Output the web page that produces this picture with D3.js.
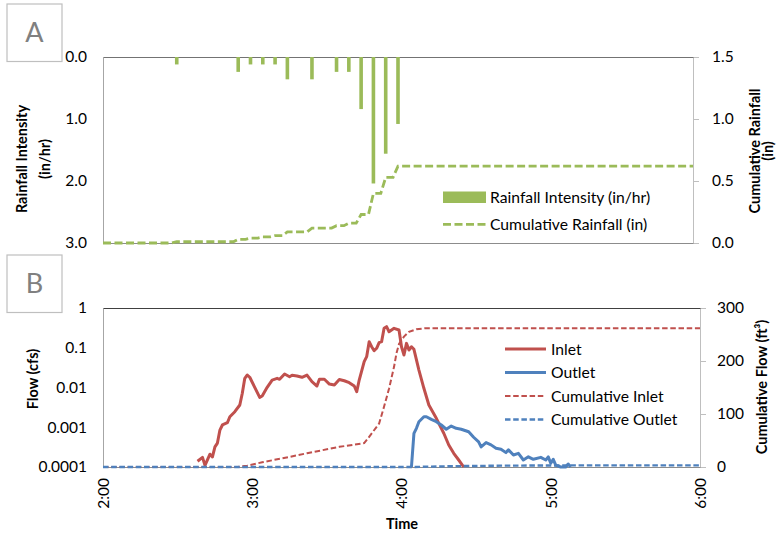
<!DOCTYPE html>
<meta charset="utf-8">
<script src="https://d3js.org/d3.v7.min.js"></script>
<style>
  body { margin: 0; background: #fff; }
  text { font-family: Lato, "Noto Sans", sans-serif; }
</style>
<div id="chart"></div>
<script>
// panel A: rainfall, 5-minute bars
var rainTimes = ["2:30","2:55","3:00","3:05","3:10","3:15","3:25","3:35","3:40","3:45","3:50","3:55","4:00"];
var rainIntensity = [0.12,0.24,0.12,0.12,0.12,0.36,0.36,0.24,0.24,0.84,2.04,1.56,1.08];

var cumRainTimes = ["2:00","2:28","2:30","2:53","2:55","2:58","3:00","3:03","3:05","3:08","3:10","3:13","3:15",
  "3:23","3:25","3:33","3:35","3:38","3:40","3:43","3:45","3:48","3:50","3:53","3:55","3:58","4:00","6:00"];
var cumRain = [0,0,0.01,0.01,0.03,0.03,0.04,0.04,0.05,0.05,0.06,0.06,0.09,
  0.09,0.12,0.12,0.14,0.14,0.16,0.16,0.23,0.23,0.40,0.40,0.53,0.53,0.62,0.62];

// panel B: flows
var inletTimes = ["2:38","2:40","2:41","2:43","2:44","2:45","2:46","2:47","2:48","2:50","2:51","2:53","2:55","2:56",
  "2:57","2:58","2:59","3:01","3:03","3:04","3:06","3:08","3:10","3:11","3:13","3:15","3:16","3:18","3:20","3:22",
  "3:24","3:26","3:27","3:29","3:31","3:33","3:35","3:37","3:39","3:41","3:42","3:43","3:45","3:46","3:47","3:48",
  "3:49","3:50","3:51","3:52","3:53","3:54","3:55","3:57","3:59","4:00","4:01","4:02","4:03","4:04","4:05","4:07",
  "4:09","4:11","4:14","4:17","4:19","4:21","4:23","4:25"];
var inletFlow = [0.00014,0.000175,0.00011,0.00021,0.00018,0.00032,0.0004,0.00085,0.00114,0.0013,0.00184,0.00246,0.00363,0.00715,
  0.017,0.0206,0.0181,0.0101,0.00566,0.00611,0.0101,0.0154,0.017,0.0161,0.0219,0.0187,0.0203,0.0195,0.0181,0.0206,
  0.014,0.0109,0.0161,0.0161,0.0122,0.0116,0.0159,0.0148,0.0132,0.0109,0.00784,0.0154,0.0446,0.0596,0.142,0.106,
  0.0843,0.0969,0.134,0.142,0.308,0.339,0.253,0.308,0.28,0.106,0.0657,0.129,0.0878,0.106,0.0914,0.0275,
  0.00955,0.00363,0.00168,0.000705,0.000357,0.000221,0.00015,0.0001];

var outletTimes = ["4:04","4:05","4:06","4:07","4:09","4:10","4:12","4:14","4:16","4:18","4:20","4:22","4:24","4:27",
  "4:29","4:31","4:32","4:34","4:36","4:38","4:40","4:42","4:43","4:45","4:47","4:49","4:51","4:53","4:56","4:58",
  "4:59","5:00","5:01","5:02","5:04","5:06","5:07","5:08"];
var outletFlow = [0.0001,0.0007,0.00094,0.00138,0.00184,0.00184,0.00158,0.00138,0.00114,0.00089,0.00107,0.00094,0.00089,0.00077,
  0.00056,0.00043,0.00032,0.00041,0.00036,0.000295,0.00028,0.00023,0.00027,0.0002,0.00022,0.00015,0.00018,0.000156,0.000175,0.00015,
  0.00018,0.000124,0.000156,0.000112,0.0001,0.0001,0.000119,0.0001];

var cumInletTimes = ["2:00","2:54","2:58","3:04","3:15","3:22","3:35","3:45","3:47","3:51","3:53","3:55","3:57","3:58",
  "3:59","4:01","4:03","4:06","4:10","6:00"];
var cumInlet = [0,0,2.5,9,19,26,38,45,57,82,114,148,189,215,232,246,255,260,262,262];

var cumOutletTimes = ["2:00","4:04","4:20","4:40","5:05","6:00"];
var cumOutlet = [0,0,1.5,2.5,3,3];

var hourTicks = ["2:00","3:00","4:00","5:00","6:00"];
var intensityTicks = [0, 1, 2, 3];
var cumRainTicks = [0, 0.5, 1, 1.5];
var flowTicks = [1, 0.1, 0.01, 0.001, 0.0001];
var cumFlowTicks = [0, 100, 200, 300];

var green = "#9bbb59", red = "#c0504d", blue = "#4f81bd";
var parse = d3.timeParse("%H:%M");

var svg = d3.select("#chart").append("svg")
    .attr("width", 781)
    .attr("height", 535);

function zip(times, vals) {
  return times.map(function(t, i) { return { t: parse(t), v: vals[i] }; });
}

// ---------- panel A ----------
var a = { left: 103, right: 693, top: 57, bottom: 243 };

var xA = d3.scaleTime().domain([parse("2:00"), parse("6:00")]).range([a.left, a.right]);
var yInt = d3.scaleLinear().domain([0, 3]).range([a.top, a.bottom]);
var yCumR = d3.scaleLinear().domain([0, 1.5]).range([a.bottom, a.top]);

svg.append("g")
    .attr("transform", "translate(" + a.left + ",0)")
    .call(d3.axisLeft(yInt).tickValues(intensityTicks).tickFormat(d3.format(".1f")).tickSize(0).tickPadding(16))
    .call(function(g) { g.select(".domain").attr("stroke", "#a6a6a6"); });

svg.append("g")
    .attr("transform", "translate(" + a.right + ",0)")
    .call(d3.axisRight(yCumR).tickValues(cumRainTicks).tickFormat(d3.format(".1f")).tickSize(6).tickPadding(13))
    .call(function(g) {
      g.select(".domain").attr("stroke", "#bfbfbf");
      g.selectAll(".tick line").attr("stroke", "#bfbfbf");
    });

svg.append("g")
    .attr("transform", "translate(0," + a.top + ")")
    .call(d3.axisTop(xA).tickValues([]).tickSizeOuter(0))
    .select(".domain").attr("stroke", "#737373");

svg.append("g")
    .attr("transform", "translate(0," + a.bottom + ")")
    .call(d3.axisBottom(xA).tickValues([]).tickSizeOuter(0))
    .select(".domain").attr("stroke", "#8c8c8c");

svg.selectAll(".tick text").attr("font-size", 15.5).attr("fill", "#000");

svg.append("g").selectAll("rect")
  .data(zip(rainTimes, rainIntensity))
  .join("rect")
    .attr("x", function(d) { return xA(d.t) - 1.8; })
    .attr("y", yInt(0))
    .attr("width", 3.6)
    .attr("height", function(d) { return yInt(d.v) - yInt(0); })
    .attr("fill", green);

svg.append("path")
    .datum(zip(cumRainTimes, cumRain))
    .attr("fill", "none")
    .attr("stroke", green)
    .attr("stroke-width", 2.8)
    .attr("stroke-dasharray", "8,3.5")
    .attr("d", d3.line()
      .x(function(d) { return xA(d.t); })
      .y(function(d) { return yCumR(d.v); }));

// legend A
svg.append("rect").attr("x", 443).attr("y", 191.5).attr("width", 43).attr("height", 11.5).attr("fill", green);
svg.append("line").attr("x1", 443).attr("x2", 486).attr("y1", 224.3).attr("y2", 224.3)
    .attr("stroke", green).attr("stroke-width", 2.8).attr("stroke-dasharray", "8,3.5");
svg.append("text").attr("x", 490).attr("y", 202.5).attr("font-size", 15.7).text("Rainfall Intensity (in/hr)");
svg.append("text").attr("x", 490).attr("y", 229.5).attr("font-size", 15.7).text("Cumulative Rainfall (in)");

// ---------- panel B ----------
var b = { left: 103, right: 700, top: 308, bottom: 467 };

var xB = d3.scaleTime().domain([parse("2:00"), parse("6:00")]).range([b.left, b.right]);
var yFlow = d3.scaleLog().domain([0.0001, 1]).range([b.bottom, b.top]);
var yCumF = d3.scaleLinear().domain([0, 300]).range([b.bottom, b.top]);

svg.append("g")
    .attr("class", "b-left")
    .attr("transform", "translate(" + b.left + ",0)")
    .call(d3.axisLeft(yFlow).tickValues(flowTicks).tickFormat(function(d) { return String(d); }).tickSize(0).tickPadding(16))
    .call(function(g) { g.select(".domain").attr("stroke", "#a6a6a6"); });

svg.append("g")
    .attr("class", "b-right")
    .attr("transform", "translate(" + b.right + ",0)")
    .call(d3.axisRight(yCumF).tickValues(cumFlowTicks).tickSize(6).tickPadding(11))
    .call(function(g) {
      g.select(".domain").attr("stroke", "#bfbfbf");
      g.selectAll(".tick line").attr("stroke", "#bfbfbf");
    });

svg.append("g")
    .attr("transform", "translate(0," + b.top + ")")
    .call(d3.axisTop(xB).tickValues([]).tickSizeOuter(0))
    .select(".domain").attr("stroke", "#404040");

svg.append("g")
    .attr("class", "b-bottom")
    .attr("transform", "translate(0," + b.bottom + ")")
    .call(d3.axisBottom(xB).tickValues(hourTicks.map(parse)).tickFormat(d3.timeFormat("%-H:%M")).tickSize(0).tickSizeOuter(0))
    .call(function(g) {
      g.select(".domain").attr("stroke", "#8c8c8c");
      g.selectAll(".tick text")
        .attr("transform", "rotate(-90)")
        .attr("text-anchor", "end")
        .attr("x", -11)
        .attr("y", 0)
        .attr("dy", "0.35em");
    });

svg.selectAll(".tick text").attr("font-size", 15.5).attr("fill", "#000");

svg.append("clipPath").attr("id", "clipB")
  .append("rect").attr("x", b.left).attr("y", b.top - 2).attr("width", b.right - b.left).attr("height", b.bottom - b.top + 5);

var plotB = svg.append("g").attr("clip-path", "url(#clipB)");

var flowLine = d3.line()
    .x(function(d) { return xB(d.t); })
    .y(function(d) { return yFlow(d.v); });
var cumLine = d3.line()
    .x(function(d) { return xB(d.t); })
    .y(function(d) { return yCumF(d.v); });

plotB.append("path").datum(zip(inletTimes, inletFlow))
    .attr("fill", "none").attr("stroke", red).attr("stroke-width", 3).attr("stroke-linejoin", "round")
    .attr("d", flowLine);
plotB.append("path").datum(zip(outletTimes, outletFlow))
    .attr("fill", "none").attr("stroke", blue).attr("stroke-width", 3).attr("stroke-linejoin", "round")
    .attr("d", flowLine);
plotB.append("path").datum(zip(cumInletTimes, cumInlet))
    .attr("fill", "none").attr("stroke", red).attr("stroke-width", 2).attr("stroke-dasharray", "5.5,2.7")
    .attr("d", cumLine);
plotB.append("path").datum(zip(cumOutletTimes, cumOutlet))
    .attr("fill", "none").attr("stroke", blue).attr("stroke-width", 2.4).attr("stroke-dasharray", "5.5,2.7")
    .attr("d", cumLine);

// legend B
var legendB = [
  { name: "Inlet", color: red, dash: null, w: 3 },
  { name: "Outlet", color: blue, dash: null, w: 3 },
  { name: "Cumulative Inlet", color: red, dash: "5.5,2.7", w: 2 },
  { name: "Cumulative Outlet", color: blue, dash: "5.5,2.7", w: 2.4 }
];
var lg = svg.append("g").selectAll("g").data(legendB).join("g")
    .attr("transform", function(d, i) { return "translate(505," + (349 + i * 23.5) + ")"; });
lg.append("line").attr("x1", 0).attr("x2", 41)
    .attr("stroke", function(d) { return d.color; })
    .attr("stroke-width", function(d) { return d.w; })
    .attr("stroke-dasharray", function(d) { return d.dash; });
lg.append("text").attr("x", 46).attr("dy", "0.35em").attr("font-size", 15.7).text(function(d) { return d.name; });

// ---------- titles ----------
function vtitle(x, y, txt) {
  svg.append("text")
    .attr("transform", "translate(" + x + "," + y + ") rotate(-90)")
    .attr("text-anchor", "middle")
    .attr("font-size", 14.5)
    .attr("font-weight", "bold")
    .text(txt);
}
vtitle(27, 159, "Rainfall Intensity");
vtitle(50, 159, "(in/hr)");
vtitle(760, 151, "Cumulative Rainfall");
vtitle(773, 151, "(in)");
vtitle(38, 379, "Flow (cfs)");
vtitle(767, 387, "Cumulative Flow (ft\u00b3)");

svg.append("text").attr("x", 402).attr("y", 529).attr("text-anchor", "middle")
    .attr("font-size", 14.5).attr("font-weight", "bold").text("Time");

// panel letters
[["A", 4], ["B", 255]].forEach(function(p) {
  svg.append("rect").attr("x", 7).attr("y", p[1]).attr("width", 55).attr("height", 57.5)
      .attr("fill", "#fff").attr("stroke", "#bfbfbf").attr("stroke-width", 1.2);
  svg.append("text").attr("x", 34.5).attr("y", p[1] + 29).attr("dy", "0.35em")
      .attr("text-anchor", "middle").attr("font-size", 27).attr("fill", "#808080").text(p[0]);
});
</script>
